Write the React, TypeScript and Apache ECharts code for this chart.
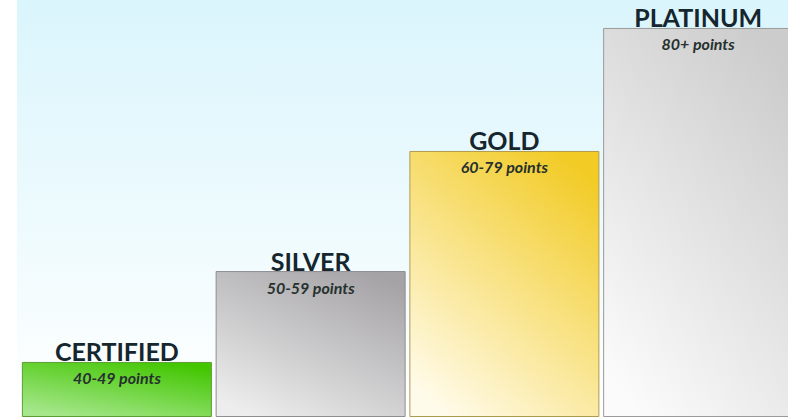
import React, { useEffect, useRef } from "react";
import * as echarts from "echarts";

const categories = ["CERTIFIED", "SILVER", "GOLD", "PLATINUM"];
const pointRanges = ["40-49 points", "50-59 points", "60-79 points", "80+ points"];
const levelHeights = [13.2, 35.0, 63.8, 93.3];

const gradStops: [string, string][] = [
  ["#42c600", "#a6e78c"],
  ["#a5a3a6", "#ededed"],
  ["#f2cb25", "#fffbea"],
  ["#cccccc", "#fbfbfb"],
];
const borderColors = ["#5c9e35", "#8f8d90", "#b09a50", "#9a9a9a"];

export default function App() {
  const ref = useRef<HTMLDivElement>(null);
  useEffect(() => {
    if (!ref.current) return;
    const chart = echarts.init(ref.current, undefined, { renderer: "svg" });
    const mainData = levelHeights.map((v, i) => ({
      value: v,
      itemStyle: {
        color: new echarts.graphic.LinearGradient(0.8, 0, 0.2, 1, [
          { offset: 0, color: gradStops[i][0] },
          { offset: 1, color: gradStops[i][1] },
        ]),
        borderColor: borderColors[i],
        borderWidth: 1,
      },
    }));
    chart.setOption({
      animation: false,
      graphic: [
        {
          type: "rect",
          left: 17,
          top: 0,
          z: -10,
          shape: { width: 771, height: 417 },
          style: {
            fill: new echarts.graphic.LinearGradient(0, 0, 0, 1, [
              { offset: 0, color: "#daf5fc" },
              { offset: 1, color: "#ffffff" },
            ]),
          },
        },
      ],
      grid: {
        left: 20,
        top: 0,
        bottom: 0,
        width: 775,
        containLabel: false,
        outerBoundsMode: "none",
      },
      xAxis: {
        type: "category",
        data: categories,
        axisLine: { show: false },
        axisTick: { show: false },
        axisLabel: { show: false },
      },
      yAxis: {
        type: "value",
        min: 0,
        max: 100,
        show: false,
        splitLine: { show: false },
      },
      series: [
        {
          type: "bar",
          barWidth: 190,
          data: mainData,
          label: {
            show: true,
            position: "top",
            distance: -2,
            formatter: (p: any) => categories[p.dataIndex],
            fontFamily: "Lato",
            fontWeight: "bold",
            fontSize: 25,
            color: "#15262e",
          },
        },
        {
          type: "bar",
          barWidth: 190,
          barGap: "-100%",
          data: levelHeights,
          itemStyle: { color: "rgba(0,0,0,0)" },
          silent: true,
          label: {
            show: true,
            position: "insideTop",
            distance: 8,
            formatter: (p: any) => pointRanges[p.dataIndex],
            fontFamily: "Lato",
            fontWeight: "bold",
            fontStyle: "italic",
            fontSize: 16,
            color: "#26312e",
          },
        },
      ],
    });
    return () => chart.dispose();
  }, []);
  return (
    <div
      ref={ref}
      style={{ position: "fixed", left: 0, top: 0, width: 788, height: 417, background: "#ffffff" }}
    />
  );
}
